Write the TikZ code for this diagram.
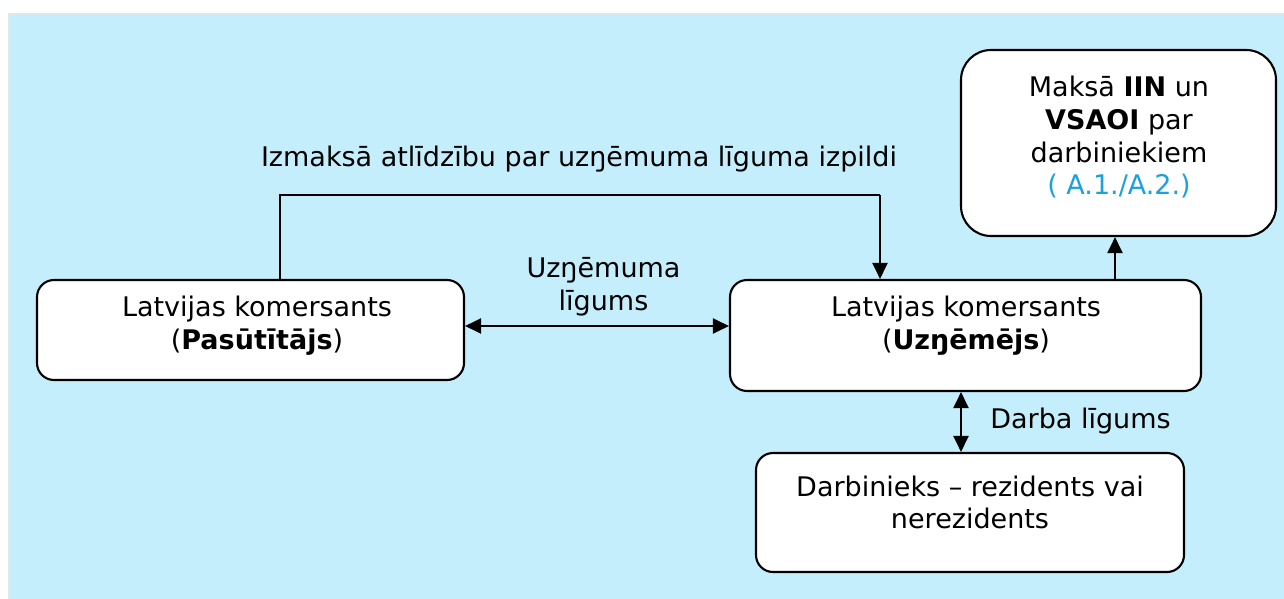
\documentclass[tikz,border=0pt]{standalone}
\usepackage{fontspec}
\setmainfont{DejaVu Sans}
\usetikzlibrary{arrows.meta}
\definecolor{bgblue}{HTML}{C5EEFC}
\definecolor{bgedge}{HTML}{DCE8EE}
\definecolor{refblue}{HTML}{1BA1DD}
\begin{document}
\begin{tikzpicture}[x=1pt,y=-1pt,
  box/.style={draw=black,fill=white,line width=2.1pt,rounded corners=17pt,inner sep=0pt},
  tip/.tip={Triangle[length=16pt,width=15pt]},
  conn/.style={line width=2.1pt,-tip},
  dconn/.style={line width=2.1pt,tip-tip},
  plain/.style={line width=2.1pt},
  ln/.style={font=\fontsize{27}{32}\selectfont,anchor=base,inner sep=0pt}]
\useasboundingbox (0,0) rectangle (1284,599);
\fill[white] (0,0) rectangle (1284,599);
\fill[bgblue,draw=bgedge,line width=1.5pt] (9,14) rectangle (1290,605);
% boxes
\node[box,minimum width=427pt,minimum height=100pt] (pas) at (250.5,330) {};
\node[ln] (pas1) at (257,316.5) {Latvijas komersants};
\node[ln] (pas2) at (257,349) {(\textbf{Pasūtītājs})};
\node[box,minimum width=471pt,minimum height=111pt] (uzn) at (965.5,335.5) {};
\node[ln] (uzn1) at (966,316.5) {Latvijas komersants};
\node[ln] (uzn2) at (966,349) {(\textbf{Uzŋēmējs})};
\node[box,rounded corners=30pt,minimum width=315pt,minimum height=186pt] (mak) at (1118.5,143) {};
\node[ln] (mak1) at (1119,97) {Maksā \textbf{IIN} un};
\node[ln] (mak2) at (1119,129.5) {\textbf{VSAOI} par};
\node[ln] (mak3) at (1119,162) {darbiniekiem};
\node[ln,text=refblue] (mak4) at (1119,194.5) {( A.1./A.2.)};
\node[box,minimum width=428pt,minimum height=119pt] (darb) at (970,512.5) {};
\node[ln] (darb1) at (970,496) {Darbinieks – rezidents vai};
\node[ln] (darb2) at (970,528) {nerezidents};
% connectors
\coordinate (a1) at (600,326);
\draw[dconn] (pas.east |- a1) -- (uzn.west |- a1);
\node[ln] (lab1a) at (603.5,277.5) {Uzŋēmuma};
\node[ln] (lab1b) at (603.5,310) {līgums};
\coordinate (c1) at (280,195);
\coordinate (c2) at (880,195);
\draw[plain] (pas.north -| c1) -- (c1) -- (c2);
\draw[conn] (c2) -- (uzn.north -| c2);
\node[ln] (lab2) at (579,166) {Izmaksā atlīdzību par uzŋēmuma līguma izpildi};
\coordinate (c3) at (1115,280);
\draw[conn] (uzn.north -| c3) -- (mak.south -| c3);
\coordinate (c4) at (961,391);
\draw[dconn] (uzn.south -| c4) -- (darb.north -| c4);
\node[ln] (lab3) at (1080.5,428) {Darba līgums};
\end{tikzpicture}
\end{document}
